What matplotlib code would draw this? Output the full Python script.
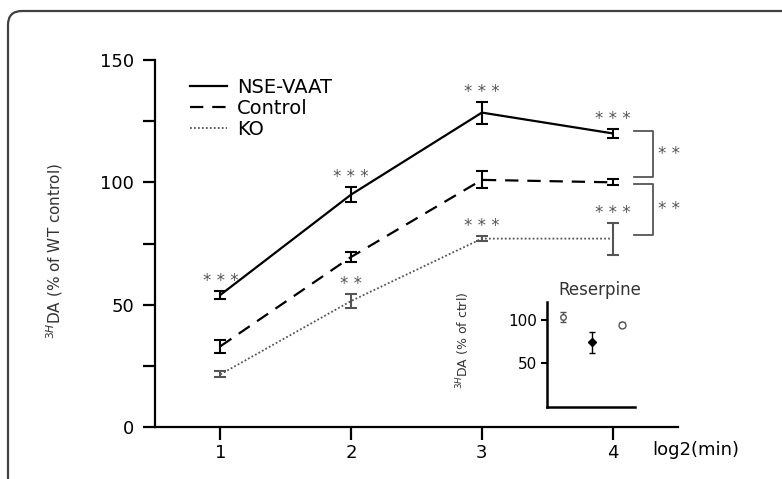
import numpy as np
import matplotlib
matplotlib.use("Agg")
import matplotlib.pyplot as plt
from matplotlib.patches import FancyBboxPatch
from matplotlib.lines import Line2D
from matplotlib.transforms import IdentityTransform
from matplotlib.ticker import MultipleLocator

# data
x = [1, 2, 3, 4]
nse = [54, 95, 128.5, 120]
nse_err = [1.5, 3, 4.5, 1.8]
ctrl = [33, 69.5, 101, 100]
ctrl_err = [2.7, 2, 3.5, 1.2]
ko = [21.5, 51.5, 77, 77]
ko_err = [1.2, 3, 1, 6.5]
series_names = ["NSE-VAAT", "Control", "KO"]

nse_stars = ["* * *", "* * *", "* * *", "* * *"]
ko_stars = ["", "* *", "* * *", "* * *"]

# inset (reserpine)
res_x = [1, 2, 3]
res_y = [103, 74, 94]
res_err = [6, 12, 3]

W, H = 782, 479
fig = plt.figure(figsize=(W / 100, H / 100), dpi=100)
plt.rcParams['font.family'] = ['DejaVu Sans']

# outer rounded frame
frame = FancyBboxPatch((8, -40), 820, H - 11 + 40, boxstyle="round,pad=0,rounding_size=14",
                       transform=IdentityTransform(), fill=False, edgecolor='#404040',
                       linewidth=1.6)
fig.patches.append(frame)

ax = fig.add_axes([155 / W, 1 - 427 / H, (678 - 155) / W, (427 - 60) / H])
ax.set_xlim(0.5, 4.5)
ax.set_ylim(0, 150)

styles = [('black', '-', 1.6), ('black', (0, (6, 4)), 1.6), ('#555555', (0, (1, 1.2)), 1.3)]
ekw = dict(capsize=4, elinewidth=1.5, capthick=1.5)
for vals, errs, (c, ls, lw) in zip([nse, ctrl, ko], [nse_err, ctrl_err, ko_err], styles):
    ax.errorbar(x, vals, yerr=errs, color=c, linestyle=ls, linewidth=lw, **ekw)

for spine in ['top', 'right']:
    ax.spines[spine].set_visible(False)
for spine in ['left', 'bottom']:
    ax.spines[spine].set_linewidth(1.6)

ax.set_xticks(x)
ax.yaxis.set_major_locator(MultipleLocator(50))
ax.yaxis.set_minor_locator(MultipleLocator(25))
ax.tick_params(axis='both', which='both', length=9, width=1.6, labelsize=13, colors='black')
ax.tick_params(axis='y', which='both', pad=6)
ax.tick_params(axis='x', pad=3)

# significance stars
for xi, yi, e, s in zip(x, nse, nse_err, nse_stars):
    ax.text(xi, yi + e + 4, s, ha='center', va='center', fontsize=12, color='#555555')
for xi, yi, e, s in zip(x, ko, ko_err, ko_stars):
    ax.text(xi, yi + e + 4, s, ha='center', va='center', fontsize=12, color='#555555')

# brackets between groups at the last time point
bx0, bx1 = 4.16, 4.31
b1_top, b1_bot = nse[-1] + 1, ctrl[-1] + 2
b2_top, b2_bot = ctrl[-1] - 0.5, ko[-1] + 1.5
ax.plot([bx0, bx1, bx1, bx0], [b1_top, b1_top, b1_bot, b1_bot], color='#555555',
        linewidth=1.3, clip_on=False)
ax.plot([bx0, bx1, bx1, bx0], [b2_top, b2_top, b2_bot, b2_bot], color='#555555',
        linewidth=1.3, clip_on=False)
ax.text(bx1 + 0.12, (b1_top + b1_bot) / 2, "* *", ha='center', va='center', fontsize=12,
        color='#555555', clip_on=False)
ax.text(bx1 + 0.12, (b2_top + b2_bot) / 2, "* *", ha='center', va='center', fontsize=12,
        color='#555555', clip_on=False)

handles = [Line2D([], [], color=c, linestyle=ls, linewidth=lw) for c, ls, lw in styles]
ax.legend(handles, series_names, loc='upper left', bbox_to_anchor=(190 / W, 1 - 78 / H),
          bbox_transform=fig.transFigure, frameon=False, fontsize=14, handlelength=1.9,
          handletextpad=0.5, labelspacing=0.1, borderpad=0, borderaxespad=0)

fig.text(55 / W, 1 - 251 / H, r"$^{3H}$DA (% of WT control)", rotation=90, ha='center',
         va='center', fontsize=11, color='#333333')
fig.text(652 / W, 1 - 450 / H, "log2(min)", ha='left', va='center', fontsize=13)

# inset
ins = fig.add_axes([547 / W, 1 - 407 / H, (635 - 547) / W, (407 - 302) / H])
ins.set_xlim(0.45, 3.45)
ins.set_ylim(0, 120)
ins.errorbar(res_x[0], res_y[0], yerr=res_err[0], fmt='o', ms=4, mfc='white', mec='#555555',
             ecolor='#555555', capsize=2.5, elinewidth=1)
ins.errorbar(res_x[1], res_y[1], yerr=res_err[1], fmt='D', ms=4.5, color='black',
             capsize=2.5, elinewidth=1)
ins.errorbar(res_x[2], res_y[2], yerr=res_err[2], fmt='o', ms=5, mfc='white', mec='#555555',
             ecolor='#555555', capsize=2.5, elinewidth=1)
for spine in ['top', 'right']:
    ins.spines[spine].set_visible(False)
for spine in ['left', 'bottom']:
    ins.spines[spine].set_linewidth(1.8)
ins.set_xticks([])
ins.set_yticks([50, 100])
ins.tick_params(axis='y', length=4, width=1.5, labelsize=11, pad=3)
ins.patch.set_alpha(0)
fig.text(600 / W, 1 - 290 / H, "Reserpine", ha='center', va='center', fontsize=12,
         color='#333333')
fig.text(463 / W, 1 - 340 / H, r"$^{3H}$DA (% of ctrl)", rotation=90, ha='center',
         va='center', fontsize=9, color='#333333')

fig.savefig("out.png", dpi=100)
